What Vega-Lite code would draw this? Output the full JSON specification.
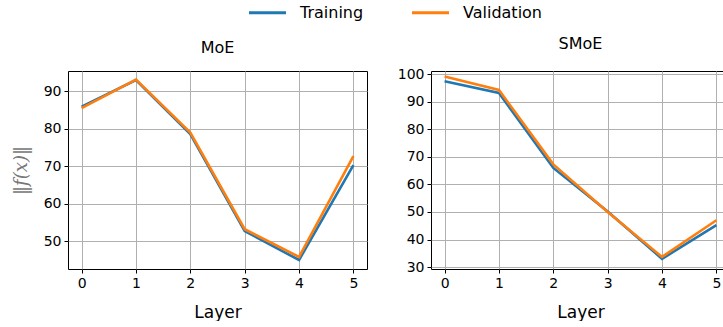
{
  "$schema": "https://vega.github.io/schema/vega-lite/v6.json",
  "padding": {"left": 11, "top": -8, "right": 0, "bottom": 0},
  "data": {"values": [
    {"panel": "MoE", "layer": 0, "series": "Training", "value": 85.9},
    {"panel": "MoE", "layer": 1, "series": "Training", "value": 93.0},
    {"panel": "MoE", "layer": 2, "series": "Training", "value": 78.6},
    {"panel": "MoE", "layer": 3, "series": "Training", "value": 52.7},
    {"panel": "MoE", "layer": 4, "series": "Training", "value": 45.0},
    {"panel": "MoE", "layer": 5, "series": "Training", "value": 70.3},
    {"panel": "MoE", "layer": 0, "series": "Validation", "value": 85.5},
    {"panel": "MoE", "layer": 1, "series": "Validation", "value": 93.1},
    {"panel": "MoE", "layer": 2, "series": "Validation", "value": 79.0},
    {"panel": "MoE", "layer": 3, "series": "Validation", "value": 53.2},
    {"panel": "MoE", "layer": 4, "series": "Validation", "value": 45.8},
    {"panel": "MoE", "layer": 5, "series": "Validation", "value": 72.7},
    {"panel": "SMoE", "layer": 0, "series": "Training", "value": 97.5},
    {"panel": "SMoE", "layer": 1, "series": "Training", "value": 93.2},
    {"panel": "SMoE", "layer": 2, "series": "Training", "value": 66.0},
    {"panel": "SMoE", "layer": 3, "series": "Training", "value": 50.2},
    {"panel": "SMoE", "layer": 4, "series": "Training", "value": 33.0},
    {"panel": "SMoE", "layer": 5, "series": "Training", "value": 45.2},
    {"panel": "SMoE", "layer": 0, "series": "Validation", "value": 99.2},
    {"panel": "SMoE", "layer": 1, "series": "Validation", "value": 94.3},
    {"panel": "SMoE", "layer": 2, "series": "Validation", "value": 67.3},
    {"panel": "SMoE", "layer": 3, "series": "Validation", "value": 50.0},
    {"panel": "SMoE", "layer": 4, "series": "Validation", "value": 33.7},
    {"panel": "SMoE", "layer": 5, "series": "Validation", "value": 47.0}
  ]},
  "spacing": 28,
  "hconcat": [
    {
      "title": "MoE",
      "width": 299,
      "height": 198,
      "transform": [{"filter": "datum.panel === 'MoE'"}],
      "mark": {"type": "line", "strokeWidth": 2.6, "clip": true},
      "encoding": {
        "x": {"field": "layer", "type": "quantitative", "scale": {"domain": [-0.25, 5.25], "nice": false, "zero": false}, "axis": {"values": [0, 1, 2, 3, 4, 5], "title": "Layer", "format": "d"}},
        "y": {"field": "value", "type": "quantitative", "scale": {"domain": [42.6, 95.4], "nice": false, "zero": false}, "axis": {"values": [50, 60, 70, 80, 90], "title": "‖f(x)‖", "titleFont": "DejaVu Serif", "titleFontStyle": "italic", "titleFontSize": 18, "titleColor": "#777777", "titlePadding": 13}},
        "color": {"field": "series", "type": "nominal", "scale": {"domain": ["Training", "Validation"], "range": ["#1f77b4", "#ff7f0e"]}, "legend": {"title": null, "orient": "none", "legendX": 179, "legendY": -79, "direction": "horizontal", "symbolType": "stroke", "symbolSize": 1370, "symbolStrokeWidth": 3, "labelFontSize": 16, "labelFont": "DejaVu Sans", "labelColor": "#000000", "labelOffset": 12, "columnPadding": 41}}
      }
    },
    {
      "title": "SMoE",
      "width": 299,
      "height": 198,
      "transform": [{"filter": "datum.panel === 'SMoE'"}],
      "mark": {"type": "line", "strokeWidth": 2.6, "clip": true},
      "encoding": {
        "x": {"field": "layer", "type": "quantitative", "scale": {"domain": [-0.25, 5.25], "nice": false, "zero": false}, "axis": {"values": [0, 1, 2, 3, 4, 5], "title": "Layer", "format": "d"}},
        "y": {"field": "value", "type": "quantitative", "scale": {"domain": [29.3, 101.2], "nice": false, "zero": false}, "axis": {"values": [30, 40, 50, 60, 70, 80, 90, 100], "title": null}},
        "color": {"field": "series", "type": "nominal", "scale": {"domain": ["Training", "Validation"], "range": ["#1f77b4", "#ff7f0e"]}}
      }
    }
  ],
  "config": {
    "font": "DejaVu Sans",
    "view": {"stroke": "#000000", "strokeWidth": 1},
    "title": {"fontSize": 16, "fontWeight": "normal", "font": "DejaVu Sans", "color": "#000000", "offset": 15},
    "axis": {
      "domain": false,
      "tickColor": "#000000",
      "tickSize": 4,
      "labelFontSize": 14,
      "labelFont": "DejaVu Sans",
      "labelColor": "#000000",
      "labelPadding": 3,
      "titleFontSize": 17,
      "titleFont": "DejaVu Sans",
      "titleFontWeight": "normal",
      "titleColor": "#000000",
      "gridColor": "#b0b0b0",
      "gridWidth": 1
    },
    "axisX": {"titlePadding": 14}
  }
}
